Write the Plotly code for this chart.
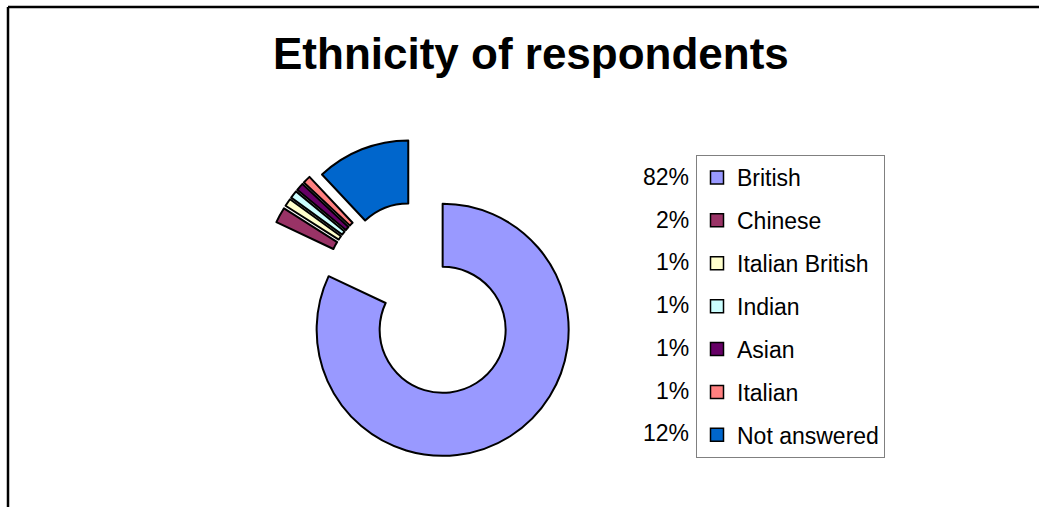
import plotly.graph_objects as go

# ---- data ----
labels = ["British", "Chinese", "Italian British", "Indian", "Asian", "Italian", "Not answered"]
values = [82, 2, 1, 1, 1, 1, 12]
colors = ["#9999FF", "#993366", "#FFFFCC", "#CCFFFF", "#660066", "#FF8080", "#0066CC"]
pulls = [0.365, 0.25, 0.25, 0.25, 0.25, 0.25, 0.21]
title_text = "Ethnicity of respondents"

W, H = 1039, 507
FONT = "Liberation Sans, Arial, sans-serif"

# pie geometry (pixels)
cx, cy = 418, 291
box = 344

fig = go.Figure()
fig.add_trace(go.Pie(
    labels=labels, values=values,
    marker=dict(colors=colors, line=dict(color="black", width=2)),
    hole=0.5, pull=pulls, sort=False, direction="clockwise", rotation=0,
    textinfo="none", hoverinfo="label+percent", showlegend=False,
    domain=dict(x=[(cx - box / 2) / W, (cx + box / 2) / W],
                y=[1 - (cy + box / 2) / H, 1 - (cy - box / 2) / H]),
))

# legend entries
for lab, col in zip(labels, colors):
    fig.add_trace(go.Scatter(
        x=[None], y=[None], mode="markers", name=lab, legendgroup=lab,
        marker=dict(symbol="square", size=13, color=col, line=dict(color="black", width=1.5)),
        hoverinfo="skip", showlegend=True,
    ))

total = sum(values)
annotations = [dict(
    x=531 / W, y=1 - 54 / H, xref="paper", yref="paper", showarrow=False,
    text="<b>" + title_text + "</b>", font=dict(family=FONT, size=44, color="black"),
    xanchor="center", yanchor="middle")]
row0, step = 177, 42.7
for i, v in enumerate(values):
    annotations.append(dict(
        x=691 / W, y=1 - (row0 + i * step) / H, xref="paper", yref="paper", showarrow=False,
        text=f"{round(v / total * 100)}%", font=dict(family=FONT, size=23, color="black"),
        xanchor="right", yanchor="middle"))

shapes = [
    dict(type="line", xref="paper", yref="paper", x0=8 / W, x1=1, y0=1 - 7 / H, y1=1 - 7 / H,
         line=dict(color="black", width=2.5)),
    dict(type="line", xref="paper", yref="paper", x0=8 / W, x1=8 / W, y0=0, y1=1 - 7 / H,
         line=dict(color="black", width=2.5)),
]

fig.update_layout(
    width=W, height=H,
    margin=dict(l=0, r=0, t=0, b=0, autoexpand=False),
    paper_bgcolor="white", plot_bgcolor="white",
    xaxis=dict(visible=False), yaxis=dict(visible=False),
    legend=dict(x=696 / W, y=1 - 155 / H, xanchor="left", yanchor="top",
                bordercolor="#808080", borderwidth=1, bgcolor="white",
                font=dict(family=FONT, size=23, color="black"),
                tracegroupgap=10, itemclick=False, itemdoubleclick=False),
    annotations=annotations, shapes=shapes,
    font=dict(family=FONT),
)

fig.write_html("out.html")
